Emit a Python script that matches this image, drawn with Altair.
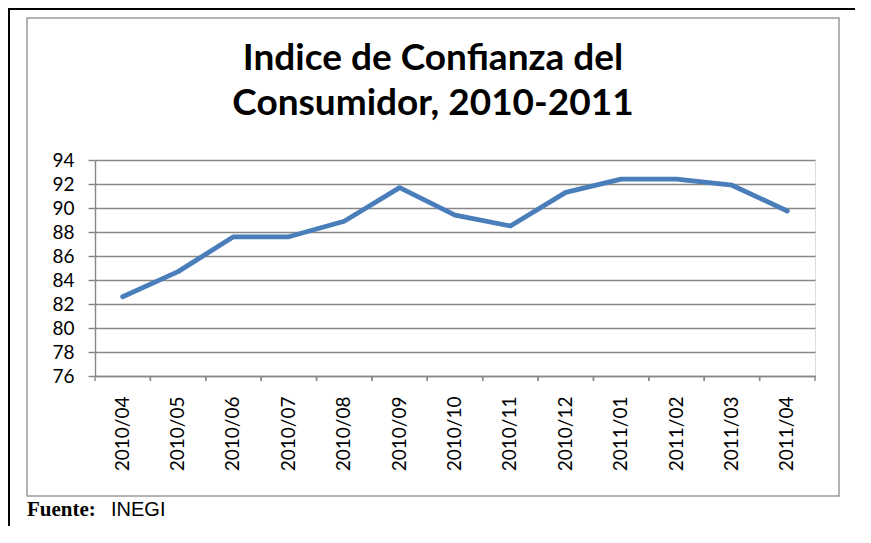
import altair as alt
import pandas as pd

# ---- data ----
MESES = ["2010/04", "2010/05", "2010/06", "2010/07", "2010/08", "2010/09", "2010/10",
         "2010/11", "2010/12", "2011/01", "2011/02", "2011/03", "2011/04"]
VALORES = [82.6, 84.7, 87.6, 87.6, 88.9, 91.7, 89.4, 88.5, 91.3, 92.4, 92.4, 91.9, 89.75]
Y_TICKS = [76, 78, 80, 82, 84, 86, 88, 90, 92, 94]
TITULO = ["Indice de Confianza del", "Consumidor, 2010-2011"]
FUENTE_ETIQ = "Fuente:"
FUENTE_TXT = "INEGI"

W, H = 720, 216
GRID = "#878787"

df = pd.DataFrame({"mes": MESES, "valor": VALORES})
one = pd.DataFrame({"k": [0]})

xscale = alt.Scale(paddingInner=0, paddingOuter=0)
xaxis = alt.Axis(title=None, ticks=False, labelAngle=270, labelPadding=20,
                 labelFont="Lato", labelFontSize=19, labelColor="black",
                 domainColor=GRID, domainWidth=1.4, labelAlign="right",
                 labelBaseline="middle", labelOverlap=False)

line = alt.Chart(df).mark_line(color="#4A7EBB", strokeWidth=4.8, strokeJoin="round", strokeCap="round").encode(
    x=alt.X("mes:N", sort=MESES, scale=xscale, axis=xaxis),
    y=alt.Y("valor:Q", scale=alt.Scale(domain=[76, 94], nice=False, zero=False),
            axis=alt.Axis(title=None, values=Y_TICKS, grid=True, gridColor=GRID, gridWidth=1.4,
                          tickColor=GRID, tickSize=7, tickWidth=1.4, labelPadding=14,
                          labelFont="Lato", labelFontSize=19, labelColor="black",
                          domainColor=GRID, domainWidth=1.4)),
)

ticks0 = alt.Chart(df).mark_rule(color=GRID, strokeWidth=1.4).encode(
    x=alt.X("mes:N", sort=MESES, scale=xscale, bandPosition=0, axis=xaxis),
    y=alt.value(H), y2=alt.value(H + 5))
ticks1 = alt.Chart(df).mark_rule(color=GRID, strokeWidth=1.4).encode(
    x=alt.X("mes:N", sort=MESES, scale=xscale, bandPosition=1, axis=xaxis),
    y=alt.value(H), y2=alt.value(H + 5))

box = alt.Chart(one).mark_rect(fillOpacity=0, stroke="#9a9a9a", strokeWidth=1.5).encode(
    x=alt.value(-68), x2=alt.value(744), y=alt.value(-142), y2=alt.value(336))

frame_top = alt.Chart(one).mark_rule(color="black", strokeWidth=2).encode(
    x=alt.value(-87), x2=alt.value(760), y=alt.value(-151))
frame_left = alt.Chart(one).mark_rule(color="black", strokeWidth=2).encode(
    x=alt.value(-86), y=alt.value(-152), y2=alt.value(366))

title = alt.Chart(one).mark_text(font="Lato", fontSize=37, fontWeight="bold", color="black",
                                 align="center", baseline="alphabetic", lineHeight=45).encode(
    x=alt.value(338), y=alt.value(-90), text=alt.value(TITULO))

fuente1 = alt.Chart(one).mark_text(font="Liberation Serif", fontSize=21, fontWeight="bold",
                                   color="black", align="left", baseline="alphabetic").encode(
    x=alt.value(-68), y=alt.value(356), text=alt.value(FUENTE_ETIQ))
fuente2 = alt.Chart(one).mark_text(font="Liberation Sans", fontSize=20, color="black",
                                   align="left", baseline="alphabetic").encode(
    x=alt.value(16), y=alt.value(356), text=alt.value(FUENTE_TXT))

chart = alt.layer(line, ticks0, ticks1, box, frame_top, frame_left, title, fuente1, fuente2).properties(
    width=W, height=H,
    autosize=alt.AutoSizeParams(type="none"),
    padding={"left": 87, "top": 152, "right": 40, "bottom": 150},
).configure_view(stroke=None).configure(background="white")

chart.save("out.html", embed_options={"renderer": "svg", "actions": False})
